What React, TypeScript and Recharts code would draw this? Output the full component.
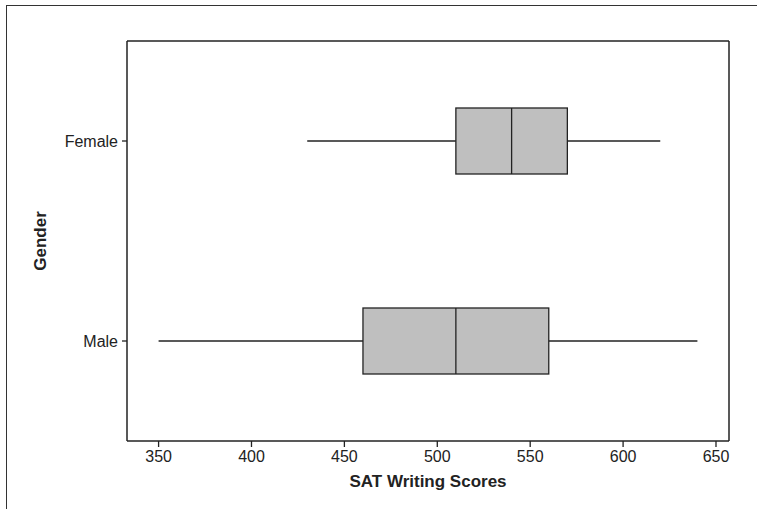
import {
  ComposedChart,
  Bar,
  XAxis,
  YAxis,
} from "recharts";

// box plot summary per gender
const categories = ["Female", "Male"];
const mins = [430, 350];
const q1s = [510, 460];
const medians = [540, 510];
const q3s = [570, 560];
const maxs = [620, 640];
const xTicks = [350, 400, 450, 500, 550, 600, 650];

const data = categories.map((gender, i) => ({
  gender,
  min: mins[i],
  q1: q1s[i],
  median: medians[i],
  q3: q3s[i],
  max: maxs[i],
  range: [mins[i], maxs[i]],
}));

const FONT = "'Liberation Sans', Arial, Helvetica, sans-serif";
const INK = "#222";

// draws whiskers, box and median inside the bar the library positioned for [min, max]
const BoxShape = (props: any) => {
  const { x, y, width, height, payload } = props;
  const px = (v: number) =>
    x + ((v - payload.min) / (payload.max - payload.min)) * width;
  const cy = y + height / 2;
  return (
    <g>
      <line x1={px(payload.min)} x2={px(payload.q1)} y1={cy} y2={cy} stroke={INK} strokeWidth={1.3} />
      <line x1={px(payload.q3)} x2={px(payload.max)} y1={cy} y2={cy} stroke={INK} strokeWidth={1.3} />
      <rect
        x={px(payload.q1)}
        y={y}
        width={px(payload.q3) - px(payload.q1)}
        height={height}
        fill="#bfbfbf"
        stroke={INK}
        strokeWidth={1.3}
      />
      <line x1={px(payload.median)} x2={px(payload.median)} y1={y} y2={y + height} stroke={INK} strokeWidth={1.3} />
    </g>
  );
};

export default function App() {
  return (
    <div style={{ position: "absolute", left: 0, top: 0, width: 757, height: 509, background: "#fff" }}>
      <div
        style={{
          position: "absolute",
          left: 6,
          top: 5,
          right: 0,
          bottom: 0,
          borderTop: "1.5px solid #333",
          borderLeft: "1.5px solid #333",
        }}
      />
      <ComposedChart
        width={757}
        height={509}
        data={data}
        layout="vertical"
        margin={{ top: 40, right: 27, left: 20, bottom: 18 }}
        style={{ position: "absolute", left: 0, top: 0, fontFamily: FONT }}
      >
        <XAxis
          type="number"
          domain={[333, 657]}
          allowDataOverflow
          ticks={xTicks}
          height={50}
          tickSize={6}
          tickMargin={4}
          tick={{ fill: INK, fontSize: 16 }}
          axisLine={{ stroke: INK, strokeWidth: 1.5 }}
          tickLine={{ stroke: INK, strokeWidth: 1.3 }}
          label={{
            value: "SAT Writing Scores",
            position: "insideBottom",
            offset: 4,
            fill: INK,
            fontSize: 17,
            fontWeight: "bold",
          }}
        />
        <XAxis
          xAxisId="top"
          orientation="top"
          type="number"
          domain={[333, 657]}
          allowDataOverflow
          height={1}
          tick={false}
          tickLine={false}
          axisLine={{ stroke: INK, strokeWidth: 1.5 }}
        />
        <YAxis
          type="category"
          dataKey="gender"
          width={107}
          tickSize={5}
          tickMargin={4}
          tick={{ fill: INK, fontSize: 16 }}
          axisLine={{ stroke: INK, strokeWidth: 1.5 }}
          tickLine={{ stroke: INK, strokeWidth: 1.3 }}
          label={{
            value: "Gender",
            angle: -90,
            position: "insideLeft",
            offset: 20,
            fill: INK,
            fontSize: 17,
            fontWeight: "bold",
            style: { textAnchor: "middle" },
          }}
        />
        <YAxis
          yAxisId="right"
          orientation="right"
          type="category"
          dataKey="gender"
          width={1}
          tick={false}
          tickLine={false}
          axisLine={{ stroke: INK, strokeWidth: 1.5 }}
        />
        <Bar dataKey="range" barSize={66} shape={BoxShape} isAnimationActive={false} />
      </ComposedChart>
    </div>
  );
}
